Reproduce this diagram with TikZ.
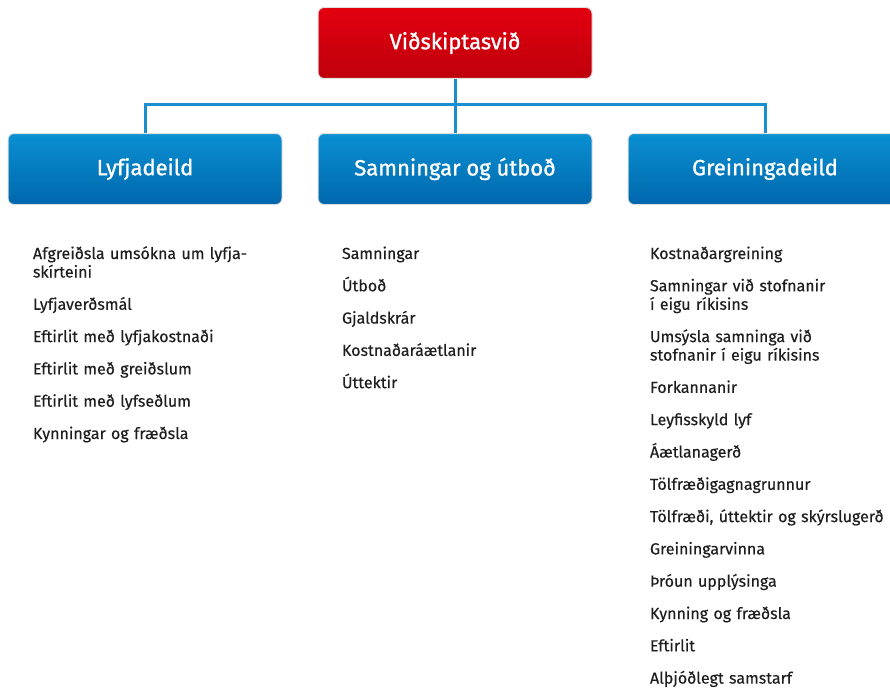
\documentclass[tikz,border=0pt]{standalone}
\usepackage{fontspec}
\setmainfont{Fira Sans}[FakeBold=0.3]
\newfontfamily\headfont{Fira Sans}[FakeBold=1.1]
\usepackage{tikz}
\usetikzlibrary{positioning}
\definecolor{redtop}{HTML}{E3000F}
\definecolor{redbot}{HTML}{BE000B}
\definecolor{bluetop}{HTML}{0A90D2}
\definecolor{bluebot}{HTML}{0067AD}
\definecolor{linkblue}{HTML}{1A8FD0}
\definecolor{itemgray}{HTML}{1E1E1E}
\newcommand{\itemtop}{\rule{0pt}{15pt}}
\newcommand{\itembot}{\rule[-5pt]{0pt}{5pt}}
\tikzstyle{headbox} = [rectangle, draw=black!12, line width=1pt, rounded corners=6pt, minimum width=274pt, minimum height=71pt, text=white, font=\headfont\fontsize{22}{24}\selectfont]
\tikzstyle{division} = [headbox, top color=redtop, bottom color=redbot]
\tikzstyle{unit} = [headbox, top color=bluetop, bottom color=bluebot]
\tikzstyle{item} = [inner sep=0pt, outer sep=0pt, text width=260pt, align=left, text=itemgray, font=\fontsize{16}{18.5}\selectfont, execute at begin node=\itemtop, execute at end node=\itembot]
\tikzstyle{link} = [draw=linkblue, line width=3pt]
\begin{document}
\begin{tikzpicture}[x=1pt, y=1pt, node distance=35pt]
            \useasboundingbox (0,0) rectangle (890,-690);
            % Nodes
            \node[division] (svid) at (455,-43) {Viðskiptasvið};
            \node[unit, below=54pt of svid] (samn) {Samningar og útboð};
            \node[unit, left=of samn] (lyfja) {Lyfjadeild};
            \node[unit, right=of samn] (grein) {Greiningadeild};
            \coordinate (bar) at (455,-105);

            % Lyfjadeild
            \node[item, anchor=north west] (l1) at (33,-244) {Afgreiðsla umsókna um lyfja-\\skírteini};
            \node[item, below=12.3pt of l1] (l2) {Lyfjaverðsmál};
            \node[item, below=12.3pt of l2] (l3) {Eftirlit með lyfjakostnaði};
            \node[item, below=12.3pt of l3] (l4) {Eftirlit með greiðslum};
            \node[item, below=12.3pt of l4] (l5) {Eftirlit með lyfseðlum};
            \node[item, below=12.3pt of l5] (l6) {Kynningar og fræðsla};

            % Samningar og útboð
            \node[item, anchor=north west] (s1) at (342,-244) {Samningar};
            \node[item, below=12.3pt of s1] (s2) {Útboð};
            \node[item, below=12.3pt of s2] (s3) {Gjaldskrár};
            \node[item, below=12.3pt of s3] (s4) {Kostnaðaráætlanir};
            \node[item, below=12.3pt of s4] (s5) {Úttektir};

            % Greiningadeild
            \node[item, anchor=north west] (g1) at (650,-244) {Kostnaðargreining};
            \node[item, below=12.3pt of g1] (g2) {Samningar við stofnanir\\í eigu ríkisins};
            \node[item, below=12.3pt of g2] (g3) {Umsýsla samninga við\\stofnanir í eigu ríkisins};
            \node[item, below=12.3pt of g3] (g4) {Forkannanir};
            \node[item, below=12.3pt of g4] (g5) {Leyfisskyld lyf};
            \node[item, below=12.3pt of g5] (g6) {Áætlanagerð};
            \node[item, below=12.3pt of g6] (g7) {Tölfræðigagnagrunnur};
            \node[item, below=12.3pt of g7] (g8) {Tölfræði, úttektir og skýrslugerð};
            \node[item, below=12.3pt of g8] (g9) {Greiningarvinna};
            \node[item, below=12.3pt of g9] (g10) {Þróun upplýsinga};
            \node[item, below=12.3pt of g10] (g11) {Kynning og fræðsla};
            \node[item, below=12.3pt of g11] (g12) {Eftirlit};
            \node[item, below=12.3pt of g12] (g13) {Alþjóðlegt samstarf};

            % Edges
            \draw[link] (svid.south) -- (samn.north);
            \draw[link] (lyfja.north) |- (bar) -| (grein.north);
        \end{tikzpicture}
\end{document}
